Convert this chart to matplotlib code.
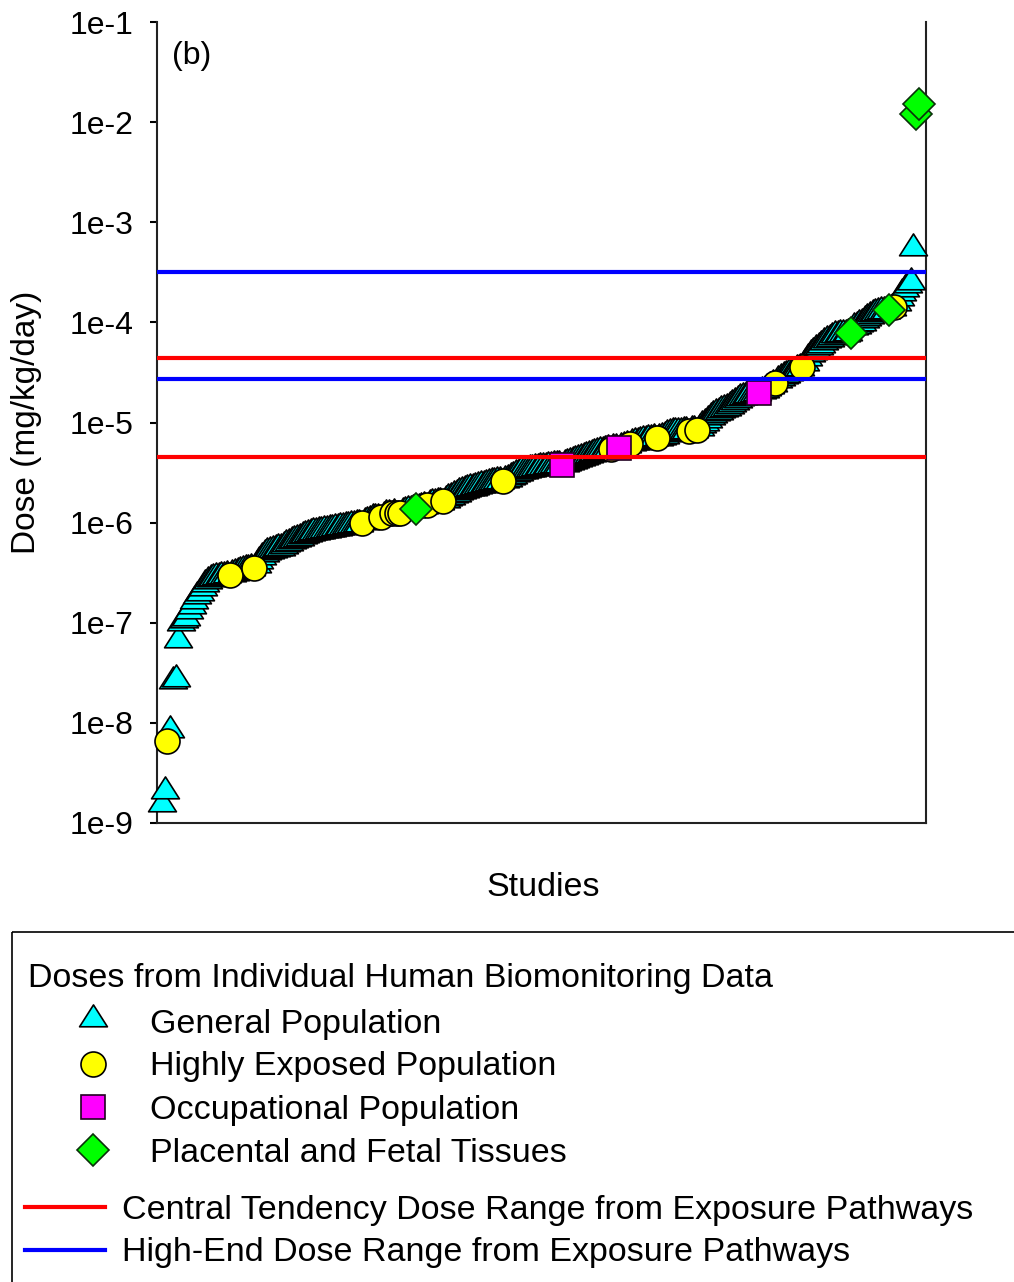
import numpy as np
import matplotlib
matplotlib.use("Agg")
import matplotlib.pyplot as plt
from matplotlib.path import Path
from matplotlib.patches import Rectangle
from matplotlib.lines import Line2D

plt.rcParams['font.family'] = ['Liberation Sans', 'DejaVu Sans']

# ---------------- data (doses, mg/kg/day) ----------------
general_population = [
    1.55e-9, 2.1e-9, 8.5e-9, 2.6e-8, 2.75e-8, 6.8e-8, 1.0e-7, 1.07e-7, 1.12e-7, 1.32e-7,
    1.48e-7, 1.66e-7, 1.86e-7, 2.0e-7, 2.24e-7, 2.45e-7, 2.63e-7, 2.75e-7, 2.82e-7, 2.85e-7,
    2.88e-7, 2.92e-7, 2.95e-7, 2.98e-7,
    3.09e-7, 3.16e-7, 3.24e-7, 3.31e-7, 3.39e-7, 3.43e-7, 3.47e-7, 3.5e-7,
    3.8e-7, 4.17e-7, 4.57e-7, 4.9e-7, 5.1e-7, 5.25e-7, 5.37e-7, 5.5e-7, 5.56e-7, 5.62e-7,
    5.9e-7, 6.17e-7, 6.3e-7, 6.6e-7, 6.76e-7, 6.9e-7, 7.1e-7, 7.3e-7, 7.6e-7, 7.76e-7,
    7.94e-7, 8.0e-7, 8.1e-7, 8.2e-7, 8.3e-7, 8.4e-7, 8.5e-7, 8.6e-7, 8.7e-7, 8.8e-7,
    8.9e-7, 9.0e-7, 9.1e-7, 9.2e-7, 9.3e-7, 9.4e-7, 9.55e-7, 9.65e-7, 9.8e-7,
    1.02e-6, 1.05e-6, 1.07e-6, 1.10e-6, 1.11e-6, 1.12e-6,
    1.17e-6, 1.22e-6, 1.23e-6, 1.245e-6,
    1.29e-6, 1.32e-6, 1.33e-6, 1.35e-6, 1.36e-6,
    1.40e-6, 1.42e-6, 1.45e-6,
    1.53e-6, 1.56e-6, 1.58e-6, 1.60e-6, 1.62e-6,
    1.70e-6, 1.76e-6, 1.82e-6, 1.88e-6, 1.94e-6, 2.0e-6, 2.05e-6, 2.1e-6, 2.15e-6, 2.2e-6,
    2.24e-6, 2.28e-6, 2.32e-6, 2.36e-6, 2.4e-6, 2.44e-6, 2.48e-6, 2.52e-6, 2.55e-6, 2.58e-6,
    2.6e-6,
    2.68e-6, 2.75e-6, 2.85e-6, 2.95e-6, 3.05e-6, 3.15e-6, 3.25e-6, 3.3e-6, 3.35e-6, 3.4e-6,
    3.45e-6, 3.5e-6, 3.53e-6, 3.56e-6, 3.6e-6, 3.63e-6, 3.66e-6, 3.69e-6, 3.72e-6, 3.74e-6,
    3.76e-6,
    3.85e-6, 3.95e-6, 4.05e-6, 4.15e-6, 4.25e-6, 4.35e-6, 4.45e-6, 4.55e-6, 4.65e-6, 4.75e-6,
    4.85e-6, 4.95e-6, 5.05e-6, 5.15e-6, 5.25e-6, 5.35e-6, 5.4e-6,
    5.5e-6, 5.55e-6,
    5.7e-6, 5.8e-6, 5.95e-6,
    6.25e-6, 6.35e-6, 6.45e-6, 6.55e-6, 6.65e-6, 6.75e-6, 6.85e-6, 6.9e-6, 6.95e-6,
    7.05e-6, 7.2e-6, 7.4e-6, 7.6e-6, 7.8e-6, 7.95e-6, 8.0e-6, 8.05e-6, 8.1e-6, 8.15e-6,
    8.2e-6,
    8.4e-6, 8.45e-6,
    8.9e-6, 9.5e-6, 1.0e-5, 1.07e-5, 1.14e-5, 1.2e-5, 1.24e-5, 1.28e-5, 1.32e-5, 1.36e-5,
    1.40e-5, 1.46e-5, 1.53e-5, 1.6e-5, 1.68e-5, 1.76e-5, 1.8e-5, 1.84e-5, 1.87e-5, 1.9e-5,
    1.93e-5, 1.95e-5,
    2.05e-5, 2.12e-5, 2.2e-5, 2.3e-5, 2.4e-5,
    2.65e-5, 2.8e-5, 2.9e-5, 3.0e-5, 3.1e-5, 3.2e-5, 3.3e-5, 3.4e-5, 3.5e-5,
    3.9e-5, 4.4e-5, 4.8e-5, 5.1e-5, 5.4e-5, 5.7e-5, 6.0e-5, 6.3e-5, 6.6e-5, 6.9e-5,
    7.2e-5, 7.4e-5, 7.5e-5, 7.6e-5, 7.65e-5, 7.7e-5, 7.75e-5,
    9.0e-5, 9.3e-5, 9.6e-5, 9.9e-5, 1.05e-4, 1.1e-4, 1.16e-4, 1.22e-4, 1.25e-4, 1.27e-4,
    1.29e-4, 1.30e-4, 1.31e-4,
    1.38e-4,
    1.55e-4, 1.75e-4, 1.95e-4, 2.15e-4, 2.35e-4, 2.55e-4, 5.5e-4,
]
highly_exposed = [6.6e-9, 3.0e-7, 3.55e-7, 1.0e-6, 1.14e-6, 1.24e-6, 1.25e-6, 1.26e-6,
                  1.5e-6, 1.65e-6, 2.62e-6, 5.45e-6, 6.1e-6, 7.0e-6, 8.3e-6, 8.5e-6,
                  2.5e-5, 3.58e-5, 1.42e-4]
occupational = [3.78e-6, 5.6e-6, 1.97e-5]
placental_fetal = [1.38e-6, 7.8e-5, 1.33e-4, 1.2e-2, 1.5e-2]

central_tendency_range = [4.5e-6, 4.4e-5]
high_end_range = [2.7e-5, 3.2e-4]

ytick_values = [1e-9, 1e-8, 1e-7, 1e-6, 1e-5, 1e-4, 1e-3, 1e-2, 1e-1]
ytick_labels = ["1e-9", "1e-8", "1e-7", "1e-6", "1e-5", "1e-4", "1e-3", "1e-2", "1e-1"]

legend_title = "Doses from Individual Human Biomonitoring Data"
series_labels = ["General Population", "Highly Exposed Population",
                 "Occupational Population", "Placental and Fetal Tissues"]
line_labels = ["Central Tendency Dose Range from Exposure Pathways",
               "High-End Dose Range from Exposure Pathways"]

# ---------------- rank all studies by dose ----------------
groups = [general_population, highly_exposed, occupational, placental_fetal]
vals = np.concatenate([np.asarray(g, float) for g in groups])
gid = np.concatenate([np.full(len(g), k) for k, g in enumerate(groups)])
order = np.lexsort((gid, vals))
rank = np.empty(len(vals), int)
rank[order] = np.arange(len(vals))
N = len(vals)

# ---------------- figure ----------------
W, H = 1014, 1282
fig = plt.figure(figsize=(W / 100, H / 100), dpi=100)
ax = fig.add_axes([157 / W, 1 - 823 / H, (926 - 157) / W, (823 - 22) / H])

tri = Path([(-1, -0.524), (1, -0.524), (0, 1.048), (-1, -0.524)],
           [Path.MOVETO, Path.LINETO, Path.LINETO, Path.CLOSEPOLY])

styles = [
    dict(marker=tri, ms=21, mfc='#00FFFF', mec='black'),
    dict(marker='o', ms=18, mfc='#FFFF00', mec='black'),
    dict(marker='s', ms=17.3, mfc='#FF00FF', mec='#200020'),
    dict(marker='D', ms=15.8, mfc='#00FF00', mec='#0a300a'),
]
for k in range(4):
    m = gid == k
    idx = np.argsort(rank[m])
    ax.plot(rank[m][idx], vals[m][idx], ls='none', mew=1.2, clip_on=False,
            zorder=3 + k, **styles[k])

for v in central_tendency_range:
    ax.axhline(v, color='#FF0000', lw=3, zorder=10)
for v in high_end_range:
    ax.axhline(v, color='#0000FF', lw=3, zorder=10)

ax.set_yscale('log')
ax.set_ylim(1e-9, 1e-1)
ppr = (918.7 - 162) / (N - 1)
ax.set_xlim(-5 / ppr, (N - 1) + 7.3 / ppr)
ax.set_yticks(ytick_values)
ax.set_yticklabels(ytick_labels)
ax.yaxis.set_minor_locator(matplotlib.ticker.NullLocator())
ax.set_xticks([])
ax.tick_params(axis='y', direction='out', length=5, width=1.5, pad=12, labelsize=23)
for s in ['left', 'bottom', 'right']:
    ax.spines[s].set_linewidth(1.5)
    ax.spines[s].set_color('#222222')
ax.spines['top'].set_visible(False)

fig.text(27 / W, 1 - 422 / H, "Dose (mg/kg/day)", rotation=90, ha='center', va='center', fontsize=24)
fig.text(543 / W, 1 - 888 / H, "Studies", ha='center', va='center', fontsize=24.5)
fig.text(172 / W, 1 - 56 / H, "(b)", ha='left', va='center', fontsize=23)

# ---------------- legend box ----------------
lax = fig.add_axes([0, 0, 1, 1])
lax.set_xlim(0, W)
lax.set_ylim(H, 0)
lax.axis('off')
lax.add_patch(Rectangle((12, 932), 1100, 400, fill=False, ec='black', lw=1.2, clip_on=False))
lax.text(28, 978, legend_title, ha='left', va='center', fontsize=24.5)
item_y = [1024, 1067, 1110, 1153]
marker_y = [1019, 1064, 1107, 1150]
for k in range(4):
    lax.plot([93], [marker_y[k]], ls='none', mew=1.2, **styles[k])
    lax.text(150, item_y[k], series_labels[k], ha='left', va='center', fontsize=24.5)
for y, c, lab in zip([1207, 1250], ['#FF0000', '#0000FF'], line_labels):
    lax.add_line(Line2D([25, 105], [y, y], color=c, lw=3))
    lax.text(122, y + 3, lab, ha='left', va='center', fontsize=24.5)

fig.savefig("out.png", dpi=100)
